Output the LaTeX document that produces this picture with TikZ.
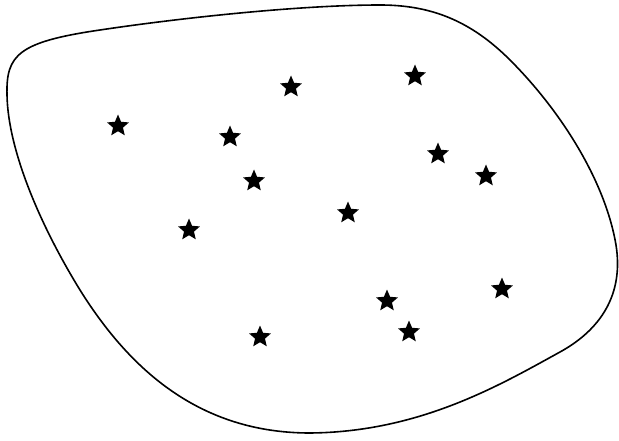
\documentclass[tikz,border=0pt]{standalone}
\usetikzlibrary{shapes.geometric}
\begin{document}
\begin{tikzpicture}[x=1pt,y=-1pt,
  starmark/.style={star,star points=5,star point ratio=2.2,fill=black,draw=none,minimum size=23pt,inner sep=0pt},
  blob/.style={draw=black,line width=1.6pt}]
\useasboundingbox (0,0) rectangle (619,441);
\draw[blob] (7,95) .. controls (6,55) and (18,42) .. (100,30)
  .. controls (180,18) and (300,5) .. (380,5)
  .. controls (430,5) and (470,20) .. (510,60)
  .. controls (560,110) and (605,180) .. (616,245)
  .. controls (624,295) and (600,330) .. (560,352)
  .. controls (500,385) and (420,432) .. (310,433)
  .. controls (200,433) and (130,370) .. (80,290)
  .. controls (40,225) and (8,150) .. (7,95) -- cycle;
\node[starmark] (s1) at (118,126) {};
\node[starmark] (s2) at (291,87) {};
\node[starmark] (s3) at (415,76) {};
\node[starmark] (s4) at (230,137) {};
\node[starmark] (s5) at (438,154) {};
\node[starmark] (s6) at (486,176) {};
\node[starmark] (s7) at (254,181) {};
\node[starmark] (s8) at (348,213) {};
\node[starmark] (s9) at (189,230) {};
\node[starmark] (s10) at (502,289) {};
\node[starmark] (s11) at (387,301) {};
\node[starmark] (s12) at (409,332) {};
\node[starmark] (s13) at (260,337) {};
\end{tikzpicture}
\end{document}
